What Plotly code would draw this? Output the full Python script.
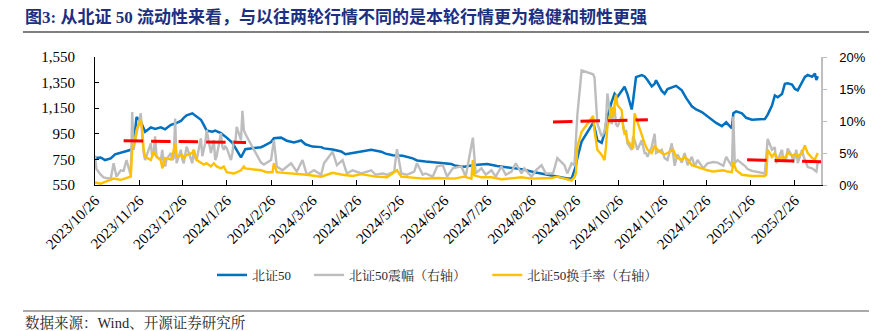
import plotly.graph_objects as go

# ---------------- data ----------------
bz50_dates = ["2023-10-26","2023-10-30","2023-11-02","2023-11-06","2023-11-09","2023-11-13","2023-11-16","2023-11-20","2023-11-22","2023-11-24",
"2023-11-27","2023-11-30","2023-12-04","2023-12-07","2023-12-11","2023-12-14","2023-12-18","2023-12-21","2023-12-25","2023-12-27",
"2023-12-29","2024-01-02","2024-01-04","2024-01-08","2024-01-10","2024-01-12","2024-01-16","2024-01-18","2024-01-22","2024-01-24",
"2024-01-26","2024-01-30","2024-02-02","2024-02-05","2024-02-08","2024-02-19","2024-02-21","2024-02-26","2024-02-28","2024-03-04",
"2024-03-08","2024-03-13","2024-03-18","2024-03-21","2024-03-26","2024-04-01","2024-04-03","2024-04-09","2024-04-15","2024-04-18",
"2024-04-23","2024-04-29","2024-05-06","2024-05-13","2024-05-16","2024-05-21","2024-05-28","2024-06-04","2024-06-07","2024-06-13",
"2024-06-21","2024-07-01","2024-07-04","2024-07-10","2024-07-17","2024-07-26","2024-08-02","2024-08-09","2024-08-19","2024-08-28",
"2024-09-06","2024-09-13","2024-09-20","2024-09-23","2024-09-24","2024-09-26","2024-09-27","2024-09-30","2024-10-08","2024-10-09",
"2024-10-11","2024-10-14","2024-10-16","2024-10-18","2024-10-21","2024-10-23","2024-10-25","2024-10-28","2024-10-30","2024-11-01",
"2024-11-04","2024-11-05","2024-11-07","2024-11-11","2024-11-13","2024-11-15","2024-11-18","2024-11-20","2024-11-21","2024-11-25",
"2024-11-27","2024-11-29","2024-12-03","2024-12-05","2024-12-09","2024-12-12","2024-12-16","2024-12-19","2024-12-23","2024-12-26",
"2024-12-30","2025-01-02","2025-01-06","2025-01-09","2025-01-13","2025-01-14","2025-01-16","2025-01-20","2025-01-23","2025-01-27",
"2025-02-05","2025-02-07","2025-02-10","2025-02-12","2025-02-14","2025-02-17","2025-02-19","2025-02-21","2025-02-24","2025-02-26",
"2025-02-28","2025-03-03","2025-03-05","2025-03-07","2025-03-10","2025-03-12","2025-03-13","2025-03-14"]
bz50_values = [760,765,745,757,790,805,812,825,850,1080,
1045,966,1000,988,1000,985,1020,1030,1050,1075,
1095,1110,1095,1060,1020,975,966,975,955,940,
920,880,820,765,830,845,855,885,915,920,
896,882,898,868,850,846,836,828,812,790,
800,812,826,810,795,782,778,758,742,733,
725,714,700,693,706,714,698,688,674,650,
630,617,600,600,630,700,760,890,1035,1000,
900,880,955,1080,1200,1263,1237,1280,1318,1260,
1140,1214,1393,1409,1398,1370,1320,1340,1368,1285,
1263,1300,1320,1325,1290,1230,1165,1140,1120,1095,
1060,1035,1010,1040,993,1110,1125,1110,1075,1060,
1065,1100,1170,1250,1235,1260,1340,1345,1335,1300,
1290,1355,1395,1410,1395,1420,1370,1400]

amp_dates = ["2023-10-26","2023-10-27","2023-10-30","2023-11-01","2023-11-03","2023-11-06","2023-11-08","2023-11-10","2023-11-13","2023-11-15",
"2023-11-17","2023-11-20","2023-11-21","2023-11-22","2023-11-23","2023-11-24","2023-11-27","2023-11-28","2023-11-29","2023-11-30",
"2023-12-01","2023-12-04","2023-12-05","2023-12-06","2023-12-07","2023-12-08","2023-12-11","2023-12-12","2023-12-13","2023-12-14",
"2023-12-15","2023-12-18","2023-12-19","2023-12-20","2023-12-21","2023-12-22","2023-12-25","2023-12-26","2023-12-27","2023-12-28",
"2023-12-29","2024-01-02","2024-01-03","2024-01-04","2024-01-05","2024-01-08","2024-01-09","2024-01-10","2024-01-11","2024-01-12",
"2024-01-15","2024-01-16","2024-01-17","2024-01-18","2024-01-19","2024-01-22","2024-01-23","2024-01-24","2024-01-25","2024-01-26",
"2024-01-29","2024-01-30","2024-01-31","2024-02-01","2024-02-02","2024-02-05","2024-02-06","2024-02-07","2024-02-08","2024-02-19",
"2024-02-21","2024-02-26","2024-02-28","2024-03-01","2024-03-05","2024-03-11","2024-03-15","2024-03-19","2024-03-22","2024-03-27",
"2024-04-01","2024-04-03","2024-04-09","2024-04-12","2024-04-16","2024-04-19","2024-04-23","2024-04-29","2024-05-06","2024-05-09",
"2024-05-14","2024-05-17","2024-05-22","2024-05-24","2024-05-27","2024-05-31","2024-06-05","2024-06-07","2024-06-11","2024-06-13",
"2024-06-18","2024-06-21","2024-06-25","2024-06-28","2024-07-02","2024-07-08","2024-07-11","2024-07-16","2024-07-18","2024-07-22",
"2024-07-25","2024-07-29","2024-08-01","2024-08-05","2024-08-08","2024-08-12","2024-08-15","2024-08-19","2024-08-21","2024-08-26",
"2024-08-29","2024-09-02","2024-09-05","2024-09-10","2024-09-13","2024-09-18","2024-09-20","2024-09-23","2024-09-25","2024-09-27",
"2024-09-30","2024-10-08","2024-10-09","2024-10-11","2024-10-14","2024-10-16","2024-10-17","2024-10-18","2024-10-21","2024-10-22",
"2024-10-23","2024-10-24","2024-10-25","2024-10-28","2024-10-29","2024-10-30","2024-10-31","2024-11-01","2024-11-04","2024-11-05",
"2024-11-06","2024-11-07","2024-11-08","2024-11-11","2024-11-12","2024-11-13","2024-11-14","2024-11-15","2024-11-18","2024-11-20",
"2024-11-21","2024-11-25","2024-11-27","2024-11-29","2024-12-02","2024-12-04","2024-12-06","2024-12-09","2024-12-11","2024-12-13",
"2024-12-16","2024-12-18","2024-12-20","2024-12-24","2024-12-27","2024-12-31","2025-01-03","2025-01-07","2025-01-09","2025-01-13",
"2025-01-14","2025-01-15","2025-01-17","2025-01-20","2025-01-22","2025-01-24","2025-01-27","2025-02-05","2025-02-07","2025-02-10",
"2025-02-12","2025-02-13","2025-02-14","2025-02-17","2025-02-18","2025-02-20","2025-02-21","2025-02-24","2025-02-25","2025-02-27",
"2025-02-28","2025-03-03","2025-03-04","2025-03-06","2025-03-07","2025-03-10","2025-03-12","2025-03-13","2025-03-14"]
amp_values = [4.6,2.5,1.6,1.2,1.1,1.0,3.4,1.3,2.3,2.2,
3.9,1.5,11.4,5.5,7.0,8.0,11.2,7.6,5.0,3.9,
4.5,6.5,4.4,5.0,7.6,4.5,3.9,5.5,3.5,2.9,
4.0,5.0,3.9,4.2,10.4,3.4,5.5,4.0,3.4,4.5,
6.0,3.4,5.5,4.2,3.9,7.3,4.5,5.5,6.5,8.6,
5.0,6.0,7.0,3.9,4.5,8.1,6.0,5.5,6.0,5.8,
3.9,5.0,7.0,6.5,9.1,7.0,11.6,8.6,8.0,3.5,
3.2,3.9,7.0,2.9,2.3,3.4,2.1,3.9,1.6,2.3,
1.6,3.4,5.2,3.1,3.9,1.8,2.3,1.8,2.3,1.6,
1.8,1.6,2.1,5.6,1.8,1.6,2.1,3.4,1.6,1.8,
1.3,2.9,3.1,1.3,2.6,2.9,1.3,7.4,1.8,2.6,
1.6,2.3,1.3,2.9,1.6,2.1,3.4,1.8,2.6,1.3,
2.3,3.1,1.8,1.8,4.2,3.1,1.8,3.4,3.1,10.9,
17.9,17.3,16.8,9.6,7.6,8.3,10.0,14.3,9.5,11.0,
12.2,9.5,9.1,10.7,9.0,8.1,8.6,6.5,5.5,7.6,
7.0,6.0,5.5,7.0,5.8,5.0,5.0,4.4,6.0,8.0,
5.0,5.5,4.2,3.9,6.5,3.0,4.8,3.5,5.0,3.1,
4.4,2.9,3.9,2.6,3.4,3.6,3.5,3.0,4.4,2.9,
10.7,3.4,3.9,3.4,3.0,2.5,2.2,1.8,7.2,5.5,
5.9,3.4,4.0,5.5,3.9,4.2,5.7,4.5,3.5,5.5,
3.4,5.5,4.5,3.2,2.8,2.6,2.3,2.1,3.6]

turn_dates = ["2023-10-26","2023-10-30","2023-11-02","2023-11-06","2023-11-08","2023-11-13","2023-11-16","2023-11-20","2023-11-21","2023-11-22",
"2023-11-23","2023-11-24","2023-11-27","2023-11-28","2023-11-29","2023-11-30","2023-12-04","2023-12-06","2023-12-08","2023-12-11",
"2023-12-12","2023-12-14","2023-12-18","2023-12-19","2023-12-21","2023-12-22","2023-12-26","2023-12-27","2023-12-29","2024-01-02",
"2024-01-03","2024-01-05","2024-01-08","2024-01-10","2024-01-12","2024-01-15","2024-01-17","2024-01-19","2024-01-22","2024-01-24",
"2024-01-26","2024-01-31","2024-02-05","2024-02-07","2024-02-08","2024-02-19","2024-02-23","2024-02-27","2024-02-28","2024-03-01",
"2024-03-06","2024-03-14","2024-03-22","2024-04-01","2024-04-09","2024-04-16","2024-04-23","2024-04-29","2024-05-09","2024-05-17",
"2024-05-24","2024-05-27","2024-06-03","2024-06-12","2024-06-21","2024-06-28","2024-07-03","2024-07-10","2024-07-15","2024-07-16",
"2024-07-17","2024-07-22","2024-07-29","2024-08-05","2024-08-12","2024-08-19","2024-08-26","2024-09-02","2024-09-09","2024-09-13",
"2024-09-20","2024-09-23","2024-09-24","2024-09-25","2024-09-26","2024-09-27","2024-09-30","2024-10-08","2024-10-09","2024-10-10",
"2024-10-11","2024-10-14","2024-10-15","2024-10-16","2024-10-17","2024-10-18","2024-10-21","2024-10-22","2024-10-23","2024-10-24",
"2024-10-25","2024-10-28","2024-10-29","2024-10-30","2024-10-31","2024-11-01","2024-11-04","2024-11-05","2024-11-06","2024-11-07",
"2024-11-08","2024-11-11","2024-11-12","2024-11-13","2024-11-15","2024-11-18","2024-11-20","2024-11-22","2024-11-25","2024-11-27",
"2024-11-29","2024-12-03","2024-12-05","2024-12-09","2024-12-11","2024-12-13","2024-12-16","2024-12-20","2024-12-24","2024-12-27",
"2024-12-31","2025-01-03","2025-01-07","2025-01-10","2025-01-13","2025-01-14","2025-01-16","2025-01-20","2025-01-24","2025-01-27",
"2025-02-05","2025-02-06","2025-02-07","2025-02-10","2025-02-12","2025-02-14","2025-02-17","2025-02-19","2025-02-21","2025-02-24",
"2025-02-26","2025-02-28","2025-03-03","2025-03-05","2025-03-06","2025-03-07","2025-03-10","2025-03-12","2025-03-14"]
turn_values = [0.4,0.2,0.5,0.8,1.0,0.8,1.0,1.3,5.5,6.2,
7.0,8.6,10.2,8.6,5.5,4.4,3.9,5.2,4.4,3.9,
2.6,4.2,4.0,4.4,6.5,4.4,4.7,4.2,4.7,5.0,
5.5,3.9,3.4,3.2,3.4,2.9,3.4,2.9,2.6,2.9,
2.0,1.8,2.3,2.9,2.6,2.3,2.0,2.0,3.4,2.0,
1.9,1.8,1.6,1.3,1.9,1.6,1.4,1.7,1.3,1.2,
2.3,1.3,1.2,1.0,1.1,1.0,1.0,1.3,1.0,3.9,
1.5,1.2,1.2,0.9,1.0,1.2,1.0,1.0,1.1,1.3,
0.9,0.7,1.0,1.2,1.8,6.0,8.3,10.8,8.5,6.5,
5.5,4.7,4.2,3.9,6.0,9.1,12.2,10.7,12.5,14.1,
12.5,11.7,9.1,8.0,8.1,7.0,6.0,5.7,11.2,10.5,
9.9,8.0,7.3,6.5,5.5,5.0,6.2,5.5,5.0,4.8,
5.0,5.5,4.4,3.9,4.4,4.0,3.1,2.8,2.5,2.3,
2.1,2.2,2.3,2.1,2.0,3.6,2.3,1.6,1.5,1.4,
1.4,1.6,5.5,4.4,5.0,3.9,4.4,4.2,5.0,4.6,
4.8,4.5,5.0,6.2,5.5,5.0,4.2,4.0,5.0]

# average turnover levels of the three rallies (red dashed lines, right axis)
avg_starts = ["2023-11-15", "2024-09-10", "2025-01-23 15:00"]
avg_ends = ["2024-02-08 12:00", "2024-11-15 07:00", "2025-03-16 06:00"]
avg_start_values = [6.9, 9.85, 3.95]
avg_end_values = [6.65, 10.2, 3.62]

tick_dates = ["2023-10-26","2023-11-26","2023-12-26","2024-01-26","2024-02-26","2024-03-26","2024-04-26","2024-05-26","2024-06-26",
"2024-07-26","2024-08-26","2024-09-26","2024-10-26","2024-11-26","2024-12-26","2025-01-26","2025-02-26"]
tick_labels = [d.replace("-0", "/").replace("-", "/") for d in tick_dates]

series_names = ["北证50", "北证50震幅（右轴）", "北证50换手率（右轴）"]
title_text = "图3: 从北证 50 流动性来看，与以往两轮行情不同的是本轮行情更为稳健和韧性更强"
source_text = "数据来源：Wind、开源证券研究所"

# ---------------- figure ----------------
W, H = 893, 331
L, R, T, B = 95, 72, 57, 146
pw, ph = W - L - R, H - T - B

def px_x(p):
    return (p - L) / pw

def px_y(p):
    return (H - B - p) / ph

SERIF = "Liberation Serif, Times New Roman, Noto Sans CJK SC, serif"
CJK = "Liberation Serif, Noto Serif CJK SC, Noto Sans CJK SC, serif"
NB = "\u00a0"
legend_pad = [4, 5, 0]  # trailing spacing between legend entries

fig = go.Figure()
fig.add_trace(go.Scatter(x=bz50_dates, y=bz50_values, name=series_names[0] + NB * legend_pad[0], mode="lines",
                         line=dict(color="#0070C0", width=2.5)))
fig.add_trace(go.Scatter(x=amp_dates, y=amp_values, name=series_names[1] + NB * legend_pad[1], mode="lines", yaxis="y2",
                         line=dict(color="#BDBDBD", width=2.4)))
fig.add_trace(go.Scatter(x=turn_dates, y=turn_values, name=series_names[2], mode="lines", yaxis="y2",
                         line=dict(color="#FFC000", width=2.4)))
for s, e, v0, v1 in zip(avg_starts, avg_ends, avg_start_values, avg_end_values):
    fig.add_trace(go.Scatter(x=[s, e], y=[v0, v1], mode="lines", yaxis="y2", showlegend=False,
                             line=dict(color="#FF0000", width=3, dash="19.5px,8px")))

fig.update_layout(
    width=W, height=H,
    margin=dict(l=L, r=R, t=T, b=B, pad=0),
    paper_bgcolor="white", plot_bgcolor="white",
    showlegend=True,
    legend=dict(orientation="h", x=px_x(212), xanchor="left", y=px_y(275), yanchor="middle",
                font=dict(family=CJK, size=13, color="#262626"), bgcolor="rgba(0,0,0,0)",
                itemwidth=30, traceorder="normal"),
    xaxis=dict(type="date", range=["2023-10-26", "2025-03-16 06:00"],
               tickvals=tick_dates, ticktext=tick_labels, tickangle=-45,
               ticks="inside", ticklen=5, tickcolor="#000", showline=True, linecolor="#000", linewidth=1,
               showgrid=False, zeroline=False,
               tickfont=dict(family=SERIF, size=15, color="#000")),
    yaxis=dict(range=[550, 1550], tick0=550, dtick=200, tickformat=",",
               ticks="inside", ticklen=4, tickcolor="#000", showline=True, linecolor="#000", linewidth=1,
               showgrid=False, zeroline=False, ticklabelstandoff=16,
               tickfont=dict(family=SERIF, size=15, color="#000")),
    yaxis2=dict(range=[0, 20], tick0=0, dtick=5, ticksuffix="%", overlaying="y", side="right",
                ticks="outside", ticklen=4, tickcolor="#BFBFBF", showline=True, linecolor="#BFBFBF", linewidth=1.5,
                showgrid=False, zeroline=False, ticklabelstandoff=10,
                tickfont=dict(family="Liberation Sans, Arial, sans-serif", size=13, color="#000")),
)

fig.add_annotation(text="<b>" + title_text + "</b>", xref="paper", yref="paper",
                   x=px_x(23), y=px_y(17), xanchor="left", yanchor="middle", showarrow=False,
                   font=dict(family="Liberation Serif, Noto Sans CJK SC, serif", size=17, color="#1c2f82"))
fig.add_annotation(text=source_text, xref="paper", yref="paper",
                   x=px_x(23), y=px_y(322), xanchor="left", yanchor="middle", showarrow=False,
                   font=dict(family=CJK, size=14.5, color="#262626"))
fig.add_shape(type="line", xref="paper", yref="paper", x0=px_x(23), x1=px_x(869), y0=px_y(32), y1=px_y(32),
              line=dict(color="#555555", width=1.5))
fig.add_shape(type="line", xref="paper", yref="paper", x0=px_x(23), x1=px_x(869), y0=px_y(311), y1=px_y(311),
              line=dict(color="#555555", width=1))

fig.write_html("out.html")
